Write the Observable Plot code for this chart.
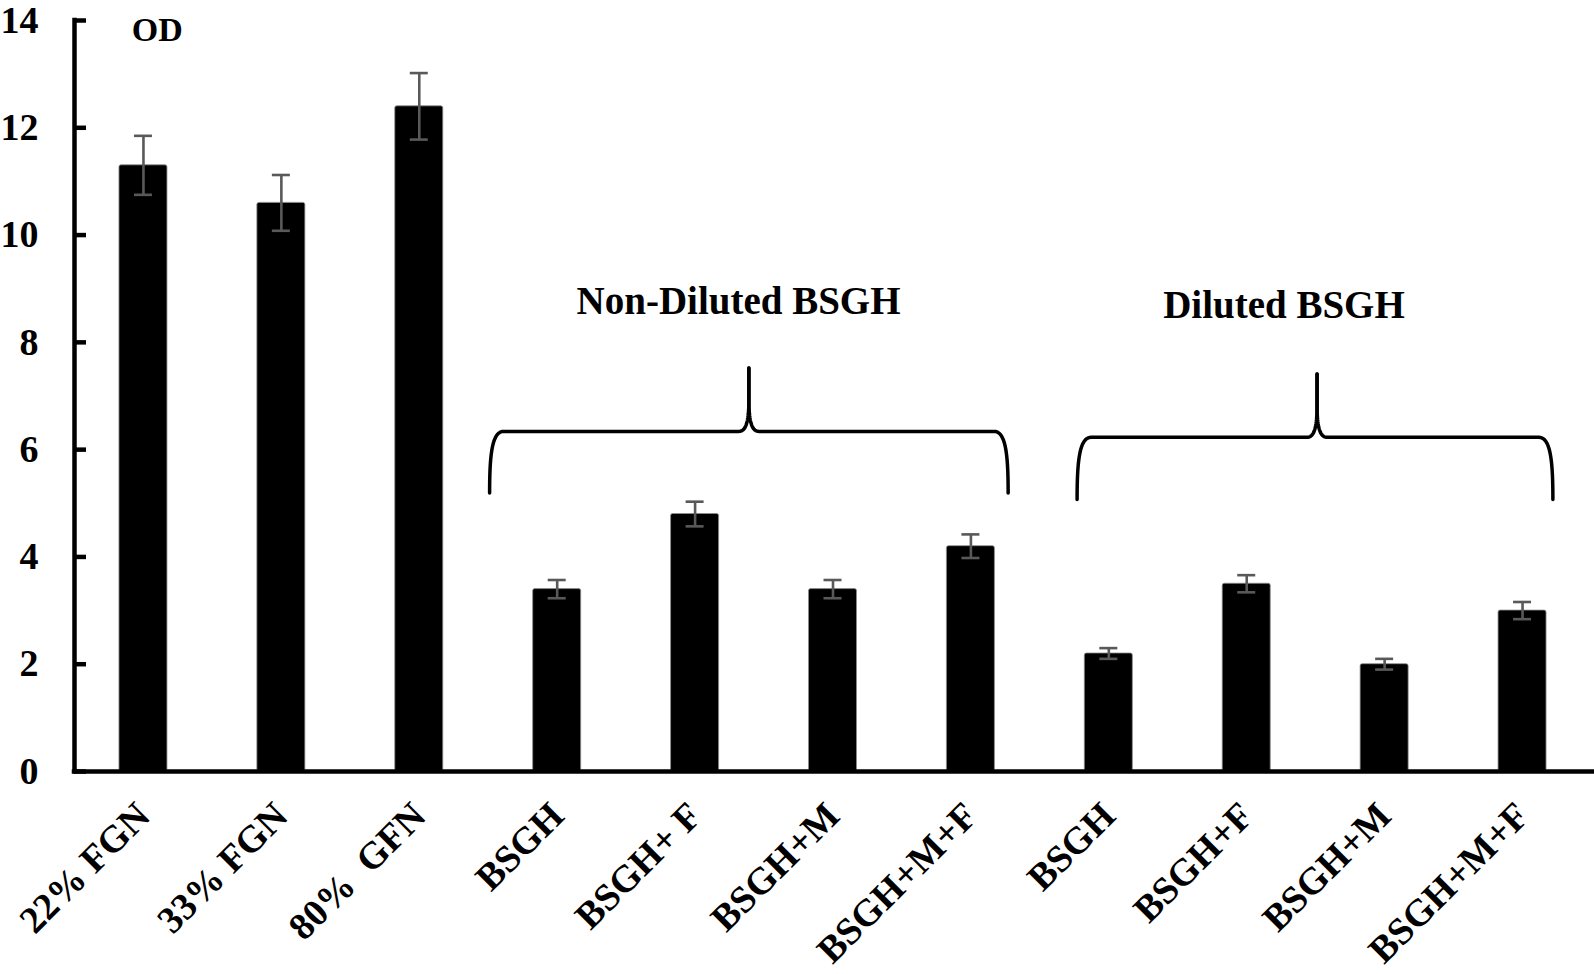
<!DOCTYPE html>
<html><head><meta charset="utf-8">
<script src="https://cdn.jsdelivr.net/npm/d3@7"></script>
<script src="https://cdn.jsdelivr.net/npm/@observablehq/plot@0.6"></script>
<style>body{margin:0;background:#fff;} svg{display:block;}</style>
</head><body><div id="chart"></div>
<script>
// ---- data ----
const categories = ["22% FGN", "33% FGN", "80%\u00A0 GFN", "BSGH", "BSGH+ F", "BSGH+M", "BSGH+M+F", "BSGH", "BSGH+F", "BSGH+M", "BSGH+M+F"];
const values = [11.3, 10.6, 12.4, 3.4, 4.8, 3.4, 4.2, 2.2, 3.5, 2.0, 3.0];
const errors = [0.55, 0.52, 0.62, 0.17, 0.23, 0.17, 0.22, 0.10, 0.16, 0.10, 0.16];
const yTicks = [0, 2, 4, 6, 8, 10, 12, 14];
const axisTitle = "OD";
// group annotations (category-index units / OD units)
const groupLabels = ["Non-Diluted BSGH", "Diluted BSGH"];
const groupLabelX = [4.315, 8.27];
const groupLabelY = [8.76, 8.69];
const braceStart = [2.51, 6.77];
const braceMid = [4.39, 8.51];
const braceEnd = [6.27, 10.22];
const braceBase = [5.19, 5.07];
const braceLevel = [6.34, 6.23];
const braceTip = [7.52, 7.41];

// ---- layout ----
const W = 1594, H = 974;
const marginLeft = 74, marginRight = 3, marginTop = 20, marginBottom = 203;
const step = (W - marginLeft - marginRight) / categories.length;
const px = p => p / step; // pixels -> index units
const barHalf = px(24), capHalf = px(9);

const data = categories.map((c, i) => ({i, c, v: values[i], e: errors[i]}));

function cubic(p0, p1, p2, p3, n = 24) {
  const out = [];
  for (let k = 0; k <= n; k++) {
    const t = k / n, u = 1 - t;
    out.push([
      u*u*u*p0[0] + 3*u*u*t*p1[0] + 3*u*t*t*p2[0] + t*t*t*p3[0],
      u*u*u*p0[1] + 3*u*u*t*p1[1] + 3*u*t*t*p2[1] + t*t*t*p3[1]
    ]);
  }
  return out;
}
const bracePts = [];
groupLabels.forEach((g, gi) => {
  const L = braceStart[gi], C = braceMid[gi], R = braceEnd[gi];
  const yb = braceBase[gi], ym = braceLevel[gi], yt = braceTip[gi];
  const c = px(14), c2 = px(10);
  [[L, -1], [R, 1]].forEach(([E, s]) => {
    const dir = -s; // direction from end toward center
    const pts = [
      ...cubic([E, yb], [E, yb + 0.6*(ym - yb)], [E + dir*0.15*c, ym], [E + dir*c, ym]),
      ...cubic([C - dir*c2, ym], [C - dir*0.3*c2, ym], [C, ym + 0.15*(yt - ym)], [C, ym + 0.5*(yt - ym)]),
      [C, yt]
    ];
    pts.forEach(([x, y]) => bracePts.push({x, y, z: g + s}));
  });
});

const font = "'Liberation Serif', 'Times New Roman', serif";

const chart = Plot.plot({
  width: W, height: H,
  marginLeft, marginRight, marginTop, marginBottom,
  style: {fontFamily: font, fontWeight: "bold", fontSize: "37px", color: "black", background: "white"},
  x: {domain: [-0.5, categories.length - 0.5]},
  y: {domain: [0, 14]},
  marks: [
    Plot.rect(data, {x1: d => d.i - barHalf, x2: d => d.i + barHalf, y1: () => 0, y2: "v",
      fill: "black", stroke: "#8c8c8c", strokeWidth: 0.8, rx: 2}),
    Plot.ruleX(data, {x: "i", y1: d => d.v - d.e, y2: d => d.v + d.e, stroke: "#595959", strokeWidth: 2.6}),
    Plot.ruleY(data, {y: d => d.v - d.e, x1: d => d.i - capHalf, x2: d => d.i + capHalf, stroke: "#595959", strokeWidth: 2.6}),
    Plot.ruleY(data, {y: d => d.v + d.e, x1: d => d.i - capHalf, x2: d => d.i + capHalf, stroke: "#595959", strokeWidth: 2.6}),
    // axes lines and inward ticks
    Plot.ruleX([-0.5], {x: d => d, y1: () => 0, y2: () => 14, stroke: "black", strokeWidth: 4.5, strokeLinecap: "square"}),
    Plot.ruleY([0], {y: d => d, x1: () => -0.5, x2: () => categories.length - 0.48, stroke: "black", strokeWidth: 4.5, strokeLinecap: "square"}),
    Plot.ruleY(yTicks, {y: d => d, x1: () => -0.5, x2: () => -0.5 + px(12), stroke: "black", strokeWidth: 4.5}),
    Plot.axisY({ticks: yTicks, tickSize: 0, tickPadding: 36, fontSize: 38, fontWeight: "bold", label: null, fill: "black"}),
    Plot.axisX({ticks: d3.range(categories.length), tickFormat: i => categories[i], tickSize: 0, tickRotate: -45,
      tickPadding: 38, fontSize: 38, fontWeight: "bold", label: null, fill: "black"}),
    // braces
    Plot.line(bracePts, {x: "x", y: "y", z: "z", stroke: "black", strokeWidth: 3.5, curve: "linear"}),
    // annotations
    Plot.text(groupLabels, {x: (d, i) => groupLabelX[i], y: (d, i) => groupLabelY[i], text: d => d,
      fontSize: 39, fontWeight: "bold", fill: "black"}),
    Plot.text([axisTitle], {x: () => 0.1, y: () => 13.82, text: d => d, fontSize: 34, fontWeight: "bold", fill: "black"})
  ]
});
document.getElementById("chart").append(chart);
</script>
</body></html>
